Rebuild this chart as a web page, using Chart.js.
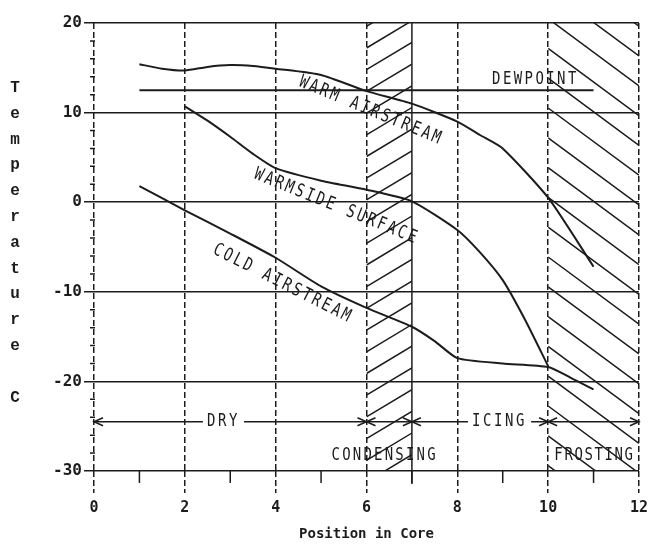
<!DOCTYPE html>
<html>
<head>
<meta charset="utf-8">
<script src="https://cdn.jsdelivr.net/npm/chart.js@4.4.0/dist/chart.umd.min.js"></script>
<style>
body { margin: 0; background: #fff; }
#wrap { width: 654px; height: 549px; }
</style>
</head>
<body>
<div id="wrap"><canvas id="core_chart"></canvas></div>
<script>
// positions along the core and temperatures (C)
const warmPos = [1, 1.5, 2, 2.5, 3, 3.5, 4, 5, 6, 7, 8, 8.5, 9, 10, 11]
const warmTemp = [15.4, 14.9, 14.7, 15.1, 15.3, 15.2, 14.9, 14.2, 12.4, 11.0, 9.0, 7.5, 6.0, 0.5, -7.2]

const dewPos = [1, 11]
const dewTemp = [12.5, 12.5]

const warmsidePos = [2, 2.5, 3, 3.5, 4, 5, 6, 7, 8, 8.5, 9, 9.5, 10]
const warmsideTemp = [10.7, 9.1, 7.3, 5.4, 3.8, 2.4, 1.4, 0.1, -3.1, -5.6, -8.7, -13.2, -18.3]

const coldPos = [1, 2, 3, 4, 5, 6, 7, 7.5, 8, 9, 10, 10.5, 11]
const coldTemp = [1.8, -0.9, -3.5, -6.2, -9.4, -11.8, -13.9, -15.5, -17.4, -18.0, -18.4, -19.6, -20.9]

const xTicks = [0, 2, 4, 6, 8, 10, 12]
const yTicks = [-30, -20, -10, 0, 10, 20]

const zoneNames = ["DRY", "CONDENSING", "ICING", "FROSTING"]
const zoneStart = [0, 6, 7, 10]
const zoneEnd = [6, 7, 10, 12]

const INK = "#1c1c1c"
const MONO = "'DejaVu Sans Mono', monospace"

function toPoints(xs, ys) {
    return xs.map((x, i) => ({x: x, y: ys[i]}))
}

function curve(label, xs, ys, tension) {
    return {
        label: label,
        data: toPoints(xs, ys),
        borderColor: INK,
        borderWidth: 2,
        pointRadius: 0,
        tension: tension,
        fill: false
    }
}

// diagonal hatch inside [x0,x1] x [top,bottom]
function hatch(ctx, x0, x1, top, bottom, slope, gap, phase) {
    var w = x1 - x0
    var reach = Math.abs(slope) * w + gap
    ctx.save()
    ctx.beginPath()
    ctx.rect(x0, top, w, bottom - top)
    ctx.clip()
    ctx.beginPath()
    var y = phase - Math.ceil((phase - (top - reach)) / gap) * gap
    for (; y < bottom + reach; y += gap) {
        ctx.moveTo(x0, y)
        ctx.lineTo(x1, y + slope * w)
    }
    ctx.stroke()
    ctx.restore()
}

// printer style text: spaced out and a little tall
function label(ctx, text, x, y, angle, opts) {
    opts = opts || {}
    ctx.save()
    ctx.translate(x, y)
    ctx.rotate(angle * Math.PI / 180)
    ctx.scale(1, opts.stretch || 1.3)
    ctx.font = (opts.weight || "normal") + " " + (opts.size || 14) + "px " + MONO
    ctx.letterSpacing = (opts.spacing === undefined ? 2.6 : opts.spacing) + "px"
    ctx.textAlign = "center"
    ctx.textBaseline = "middle"
    if (opts.clear) {
        var tw = ctx.measureText(text).width
        ctx.fillStyle = "#fff"
        ctx.fillRect(-tw / 2 - 4, -8, tw + 8, 16)
    }
    ctx.fillStyle = INK
    ctx.fillText(text, 0, 0)
    ctx.restore()
}

function arrowHead(ctx, x, y, dir) {
    ctx.beginPath()
    ctx.moveTo(x + dir * 9, y - 4)
    ctx.lineTo(x, y)
    ctx.lineTo(x + dir * 9, y + 4)
    ctx.stroke()
}

const coreDecor = {
    id: "coreDecor",
    beforeDatasetsDraw(chart) {
        const ctx = chart.ctx, a = chart.chartArea
        const xs = chart.scales.x
        ctx.save()
        ctx.strokeStyle = INK
        ctx.lineWidth = 1.5
        // condensing band
        hatch(ctx, xs.getPixelForValue(zoneStart[1]), xs.getPixelForValue(zoneEnd[1]), a.top, a.bottom, -0.6, 21.7, 48)
        // frosting band
        hatch(ctx, xs.getPixelForValue(zoneStart[3]), xs.getPixelForValue(zoneEnd[3]), a.top, a.bottom, 0.74, 29.8, 108)

        // solid edge of the condensing band
        var x7 = xs.getPixelForValue(zoneEnd[1])
        ctx.beginPath()
        ctx.moveTo(x7, a.top)
        ctx.lineTo(x7, a.bottom + 13)
        ctx.stroke()

        // minor ticks
        ctx.beginPath()
        for (var v = 1; v < 12; v += 2) {
            var px = xs.getPixelForValue(v)
            ctx.moveTo(px, a.bottom)
            ctx.lineTo(px, a.bottom + 12)
        }
        const ys = chart.scales.y
        for (var t = -28; t < 20; t += 2) {
            if (t % 10 == 0) continue
            var py = ys.getPixelForValue(t)
            ctx.moveTo(a.left - 4, py)
            ctx.lineTo(a.left + 1, py)
        }
        ctx.stroke()
        ctx.restore()
    },
    afterDatasetsDraw(chart) {
        const ctx = chart.ctx, a = chart.chartArea
        const xs = chart.scales.x, ys = chart.scales.y
        const X = v => xs.getPixelForValue(v)
        const Y = v => ys.getPixelForValue(v)
        ctx.save()
        ctx.strokeStyle = INK
        ctx.lineWidth = 1.5

        // curve names
        label(ctx, "WARM AIRSTREAM", X(6.1), Y(10.2), 22.5)
        label(ctx, "WARMSIDE SURFACE", X(5.34), Y(-0.5), 22)
        label(ctx, "COLD AIRSTREAM", X(4.16), Y(-9.1), 27)
        label(ctx, "DEWPOINT", X(9.72), Y(13.7), 0, {spacing: 2.4})

        // zone arrows
        var yl = Y(-24.5)
        ctx.beginPath()
        ctx.moveTo(X(zoneStart[0]), yl)
        ctx.lineTo(X(zoneEnd[3]), yl)
        ctx.stroke()
        for (var i = 0; i < zoneNames.length; i++) {
            arrowHead(ctx, X(zoneStart[i]), yl, 1)
            arrowHead(ctx, X(zoneEnd[i]), yl, -1)
        }
        label(ctx, zoneNames[0], X(2.85), yl, 0, {clear: true})
        label(ctx, zoneNames[2], X(8.93), yl, 0, {clear: true})
        label(ctx, zoneNames[1], X(6.4), Y(-28.2), 0, {spacing: 2.2})
        label(ctx, zoneNames[3], X(11.02), Y(-28.2), 0, {spacing: 1.6})

        // stacked y axis title
        ctx.font = "bold 16px 'Liberation Mono', monospace"
        ctx.fillStyle = INK
        ctx.textAlign = "center"
        ctx.textBaseline = "middle"
        var letters = "Temperature C"
        for (var k = 0; k < letters.length; k++) {
            ctx.fillText(letters[k], 15, a.top + 65 + k * 25.8)
        }
        ctx.restore()
    }
}

new Chart(document.getElementById("core_chart"), {
    type: "line",
    data: {
        datasets: [
            curve("Warm airstream", warmPos, warmTemp, 0.2),
            curve("Dewpoint", dewPos, dewTemp, 0),
            curve("Warmside surface", warmsidePos, warmsideTemp, 0.2),
            curve("Cold airstream", coldPos, coldTemp, 0.2)
        ]
    },
    options: {
        responsive: true,
        maintainAspectRatio: false,
        animation: false,
        layout: { padding: { top: 23, right: 14, left: 0, bottom: 0 } },
        plugins: { legend: { display: false }, tooltip: { enabled: false } },
        scales: {
            x: {
                type: "linear",
                min: 0,
                max: 12,
                afterBuildTicks: s => { s.ticks = xTicks.map(v => ({value: v})) },
                afterFit: s => { s.height = 78 },
                grid: { color: INK, lineWidth: 1.5, tickLength: 22, tickColor: INK, tickBorderDash: [6, 3] },
                border: { display: false, dash: [6, 3] },
                ticks: { color: INK, font: { family: MONO, size: 15, weight: "bold" }, padding: 6, maxRotation: 0 },
                title: {
                    display: true,
                    text: "Position in Core",
                    color: INK,
                    font: { family: MONO, size: 14, weight: "bold" },
                    padding: { top: 0, bottom: 6 }
                }
            },
            y: {
                min: -30,
                max: 20,
                afterBuildTicks: s => { s.ticks = yTicks.map(v => ({value: v})) },
                afterFit: s => { s.width = 94 },
                grid: { color: INK, lineWidth: 1.5, tickLength: 10, tickColor: INK },
                border: { display: false },
                ticks: { color: INK, font: { family: MONO, size: 16, weight: "bold" }, padding: 2 }
            }
        }
    },
    plugins: [coreDecor]
})
</script>
</body>
</html>
